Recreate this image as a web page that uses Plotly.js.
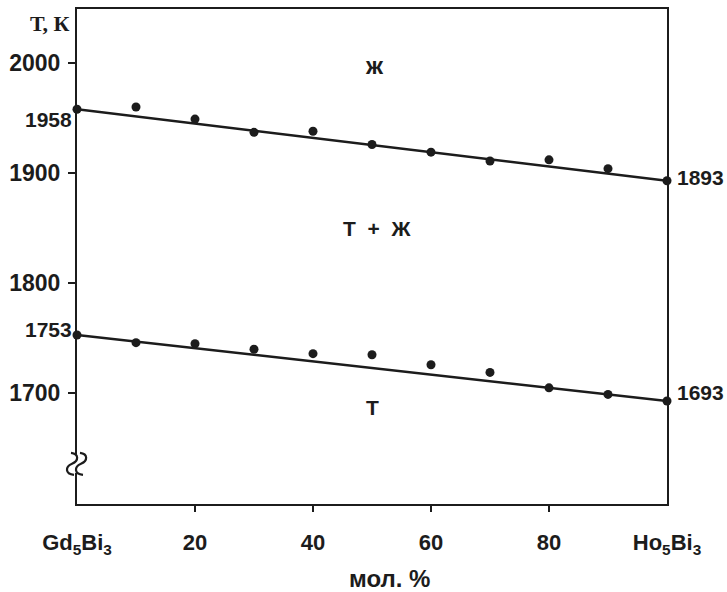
<!DOCTYPE html>
<html><head><meta charset="utf-8">
<script src="https://cdn.plot.ly/plotly-3.0.1.min.js"></script>
<style>html,body{margin:0;padding:0;background:#fff}</style>
</head><body><div id="chart" style="width:727px;height:592px"></div>
<script>
// composition, mol. % Ho5Bi3
const composition = [0, 10, 20, 30, 40, 50, 60, 70, 80, 90, 100];
// liquidus points, K
const liquidus = [1958, 1960, 1949, 1937, 1938, 1926, 1919, 1911, 1912, 1904, 1893];
// solidus points, K
const solidus = [1753, 1746, 1745, 1740, 1736, 1735, 1726, 1719, 1705, 1699, 1693];
// fitted lines
const lineX = [0, 100];
const liquidusLine = [1958, 1893];
const solidusLine = [1753, 1693];
// ticks
const xTickVals = [0, 20, 40, 60, 80, 100];
const xTickText = ['Gd<sub>5</sub>Bi<sub>3</sub>', '20', '40', '60', '80', 'Ho<sub>5</sub>Bi<sub>3</sub>'];
const xTickMarks = [20, 40, 60, 80];
const yTickVals = [1700, 1800, 1900, 2000];
const endLabels = ['1958', '1893', '1753', '1693'];
const phaseLabels = ['ж', 'Т\u00a0\u00a0+\u00a0\u00a0Ж', 'Т'];
const xTitle = 'мол. %';
const yTitle = 'Т, К';

const ink = '#1c1c1c';
const fam = 'Liberation Sans, Arial, sans-serif';

const traces = [
  {x: lineX, y: liquidusLine, mode: 'lines', line: {color: ink, width: 2.5}, hoverinfo: 'skip'},
  {x: lineX, y: solidusLine, mode: 'lines', line: {color: ink, width: 2.5}, hoverinfo: 'skip'},
  {x: composition, y: liquidus, mode: 'markers', marker: {color: ink, size: 9}, cliponaxis: false},
  {x: composition, y: solidus, mode: 'markers', marker: {color: ink, size: 9}, cliponaxis: false}
];

const lblFont = {family: fam, size: 21, color: ink, weight: 'bold'};
const phFont = {family: fam, size: 21, color: ink, weight: 'bold'};
const annotations = [
  {x: 0, y: liquidusLine[0], text: endLabels[0], xanchor: 'right', yanchor: 'middle', xshift: -3, yshift: -10, showarrow: false, font: lblFont},
  {x: 100, y: liquidusLine[1], text: endLabels[1], xanchor: 'left', yanchor: 'middle', xshift: 8, yshift: 3, showarrow: false, font: lblFont},
  {x: 0, y: solidusLine[0], text: endLabels[2], xanchor: 'right', yanchor: 'middle', xshift: -3, yshift: 5, showarrow: false, font: lblFont},
  {x: 100, y: solidusLine[1], text: endLabels[3], xanchor: 'left', yanchor: 'middle', xshift: 8, yshift: 9, showarrow: false, font: lblFont},
  {x: 50.5, y: 1998, text: phaseLabels[0], showarrow: false, font: {family: fam, size: 24, color: ink, weight: 'bold'}},
  {x: 50.8, y: 1850, text: phaseLabels[1], showarrow: false, font: phFont},
  {x: 50, y: 1687, text: phaseLabels[2], showarrow: false, font: phFont},
  {xref: 'paper', yref: 'paper', x: 0.53, y: -0.15, text: xTitle, xanchor: 'center', yanchor: 'middle', showarrow: false, font: {family: fam, size: 24, color: ink, weight: 'bold'}},
  {xref: 'paper', yref: 'paper', x: -0.01, y: 1, yshift: -14, text: yTitle, xanchor: 'right', yanchor: 'middle', showarrow: false, font: {family: 'Liberation Serif, Times New Roman, serif', size: 22, color: ink, weight: 'bold'}}
];

const shapes = [
  {type: 'rect', xref: 'paper', yref: 'y', xsizemode: 'pixel', ysizemode: 'pixel', xanchor: 0, yanchor: 1636,
   x0: -3, x1: 3, y0: -9, y1: 9, fillcolor: '#ffffff', line: {width: 0}, layer: 'above'},
  {type: 'path', xref: 'paper', yref: 'y', xsizemode: 'pixel', ysizemode: 'pixel', xanchor: 0, yanchor: 1636,
   path: 'M -6,11 C 2,10 2,3 -5,0 C -12,-3 -12,-10 -3,-11', line: {color: ink, width: 2.2}, layer: 'above'},
  {type: 'path', xref: 'paper', yref: 'y', xsizemode: 'pixel', ysizemode: 'pixel', xanchor: 0, yanchor: 1636,
   path: 'M 3,11 C 11,10 11,3 4,0 C -3,-3 -3,-10 6,-11', line: {color: ink, width: 2.2}, layer: 'above'}
];

const layout = {
  width: 727, height: 592,
  margin: {l: 77, r: 60, t: 9, b: 88},
  paper_bgcolor: '#ffffff', plot_bgcolor: '#ffffff',
  showlegend: false,
  xaxis: {
    range: [0, 100], tickvals: xTickVals, ticktext: xTickText,
    showgrid: false, zeroline: false, showline: true, linecolor: ink, linewidth: 2, mirror: true,
    ticks: '', ticklabelstandoff: 18,
    minor: {tickvals: xTickMarks, ticks: 'outside', ticklen: 6, tickwidth: 2, tickcolor: ink, showgrid: false},
    tickfont: {family: fam, size: 22, color: ink, weight: 'bold'}
  },
  yaxis: {
    range: [1599.5, 2049], tickvals: yTickVals,
    showgrid: false, zeroline: false, showline: true, linecolor: ink, linewidth: 2, mirror: true,
    ticks: 'outside', ticklen: 7, tickwidth: 2, tickcolor: ink, ticklabelstandoff: 3,
    tickfont: {family: fam, size: 23, color: ink, weight: 'bold'}
  },
  annotations: annotations,
  shapes: shapes
};

Plotly.newPlot('chart', traces, layout, {displayModeBar: false, staticPlot: true});
</script>
</body></html>
